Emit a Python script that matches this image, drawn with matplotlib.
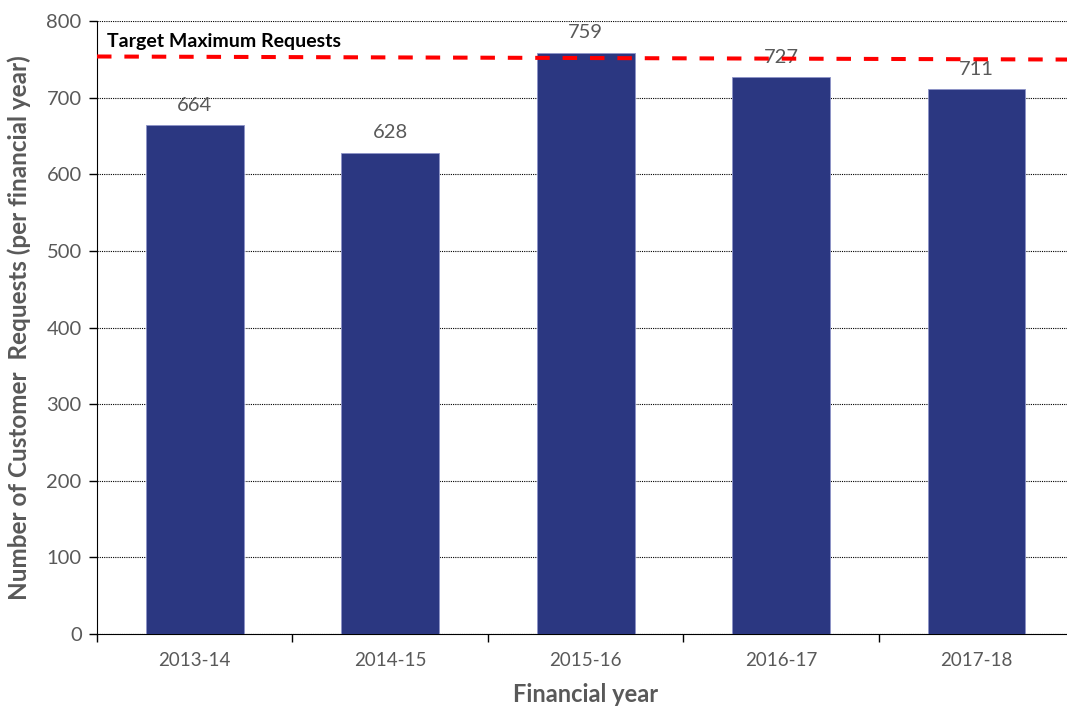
import matplotlib
matplotlib.use("Agg")
import matplotlib.pyplot as plt

# customer requests per financial year
years = ["2013-14", "2014-15", "2015-16", "2016-17", "2017-18"]
requests = [664, 628, 759, 727, 711]

# target line (drawn edge to edge, drifts slightly)
target_x = [-0.5, 4.5]
target_y = [754, 750]
target_label = "Target Maximum Requests"

plt.rcParams["font.family"] = ["Lato", "DejaVu Sans"]
grey = "#595959"

fig = plt.figure(figsize=(10.67, 7.09), dpi=100)
ax = fig.add_axes([0.0909, 0.106, 0.916, 0.864])

x = range(len(years))
ax.bar(x, requests, width=0.5, color="#2B3781", edgecolor="#8D94C8",
       linewidth=0.6, zorder=3)
for i, v in zip(x, requests):
    ax.text(i, v + 15, str(v), ha="center", va="bottom", fontsize=14.5,
            color=grey, zorder=4)

ax.plot(target_x, target_y, color="#FF0000", linestyle=(0, (3.6, 3.2)),
        linewidth=2.9, zorder=5)
ax.text(-0.45, 774, target_label, fontsize=14, fontweight="bold",
        color="black", va="center", ha="left", zorder=6)

ax.set_xlim(-0.5, 4.5)
ax.set_ylim(0, 800)
ax.set_yticks(range(0, 801, 100))
ax.yaxis.grid(True, linestyle=(0, (1, 1)), color="black", linewidth=0.8,
              zorder=0)
ax.set_axisbelow(True)

ax.set_xticks(list(x))
ax.set_xticklabels(years)
ax.set_xticks([i + 0.5 for i in range(-1, len(years))], minor=True)
ax.tick_params(axis="x", which="major", length=0, pad=13, labelsize=13.5,
               labelcolor=grey)
ax.tick_params(axis="x", which="minor", length=6, width=1, direction="out",
               color="black")
ax.tick_params(axis="y", length=6, width=1, direction="out", labelsize=14.5,
               labelcolor=grey, pad=5)

for s in ["top", "right"]:
    ax.spines[s].set_visible(False)
ax.spines["left"].set_color("black")
ax.spines["bottom"].set_color("black")

ax.set_ylabel("Number of Customer  Requests (per financial year)",
              fontsize=17.5, fontweight="bold", color=grey, labelpad=11)
ax.set_xlabel("Financial year", fontsize=17, fontweight="bold", color=grey,
              labelpad=10)

fig.savefig("out.png", dpi=100)
